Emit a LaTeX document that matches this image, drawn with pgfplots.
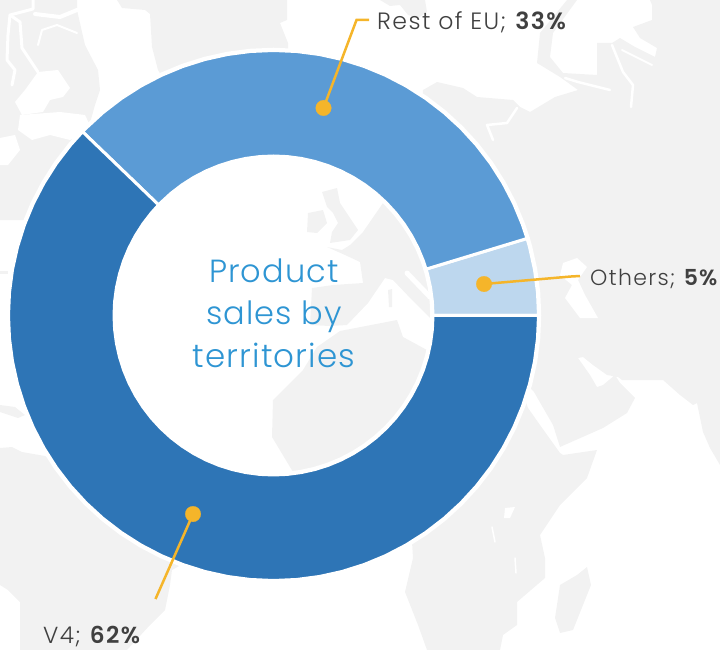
\documentclass[border=0pt]{standalone}
\usepackage{pgfplots}
\usepackage{pgfplotstable}
\usepackage{fontspec}
\pgfplotsset{compat=1.18}
\setmainfont{Poppins}[UprightFont=* Light,BoldFont=* SemiBold]
\newfontfamily\lab{Poppins}[UprightFont=* Light,BoldFont=* SemiBold,LetterSpace=6]
\newfontfamily\ttl{Poppins}[UprightFont=* Light,LetterSpace=3.5]
\definecolor{land}{HTML}{F2F2F2}
\definecolor{vfour}{HTML}{2E75B6}
\definecolor{resteu}{HTML}{5B9BD5}
\definecolor{others}{HTML}{BDD7EE}
\definecolor{gold}{HTML}{F5B52A}
\definecolor{dark}{HTML}{404040}
\definecolor{title}{HTML}{2E95D3}
% Shares: Others 4.7 (labelled 5), Rest of EU 33, V4 62.2 (labelled 62) -> angles 0-16.9, 16.9-136.1, 136.1-360
\pgfplotstableread[row sep=\\]{a r\\0 265\\5 265\\10 265\\15 265\\16.9 265\\16.9 159.5\\15 159.5\\10 159.5\\5 159.5\\0 159.5\\}\tabothers
\pgfplotstableread[row sep=\\]{a r\\16.9 265\\20 265\\25 265\\30 265\\35 265\\40 265\\45 265\\50 265\\55 265\\60 265\\65 265\\70 265\\75 265\\80 265\\85 265\\90 265\\95 265\\100 265\\105 265\\110 265\\115 265\\120 265\\125 265\\130 265\\135 265\\136.1 265\\136.1 159.5\\135 159.5\\130 159.5\\125 159.5\\120 159.5\\115 159.5\\110 159.5\\105 159.5\\100 159.5\\95 159.5\\90 159.5\\85 159.5\\80 159.5\\75 159.5\\70 159.5\\65 159.5\\60 159.5\\55 159.5\\50 159.5\\45 159.5\\40 159.5\\35 159.5\\30 159.5\\25 159.5\\20 159.5\\16.9 159.5\\}\tabeu
\pgfplotstableread[row sep=\\]{a r\\136.1 265\\140 265\\145 265\\150 265\\155 265\\160 265\\165 265\\170 265\\175 265\\180 265\\185 265\\190 265\\195 265\\200 265\\205 265\\210 265\\215 265\\220 265\\225 265\\230 265\\235 265\\240 265\\245 265\\250 265\\255 265\\260 265\\265 265\\270 265\\275 265\\280 265\\285 265\\290 265\\295 265\\300 265\\305 265\\310 265\\315 265\\320 265\\325 265\\330 265\\335 265\\340 265\\345 265\\350 265\\355 265\\360 265\\360 159.5\\355 159.5\\350 159.5\\345 159.5\\340 159.5\\335 159.5\\330 159.5\\325 159.5\\320 159.5\\315 159.5\\310 159.5\\305 159.5\\300 159.5\\295 159.5\\290 159.5\\285 159.5\\280 159.5\\275 159.5\\270 159.5\\265 159.5\\260 159.5\\255 159.5\\250 159.5\\245 159.5\\240 159.5\\235 159.5\\230 159.5\\225 159.5\\220 159.5\\215 159.5\\210 159.5\\205 159.5\\200 159.5\\195 159.5\\190 159.5\\185 159.5\\180 159.5\\175 159.5\\170 159.5\\165 159.5\\160 159.5\\155 159.5\\150 159.5\\145 159.5\\140 159.5\\136.1 159.5\\}\tabvfour
\pgfplotsset{
  base/.style={hide axis,scale only axis,width=720pt,height=650pt,at={(0,0)},anchor=south west},
  pix/.style={base,xmin=0,xmax=720,ymin=0,ymax=650,y dir=reverse},
  gr/.style={fill=land,draw=none,forget plot},
  wh/.style={fill=white,draw=none,forget plot},
  wl/.style={white,line width=#1,no markers,line join=round,line cap=round,forget plot},
}
\begin{document}
\begin{tikzpicture}
\path[use as bounding box] (0,0) rectangle (720pt,650pt);
% ---- background map ----
\begin{axis}[pix]
% Canada
\addplot[gr] coordinates {(0,0)(77,0)(77,10)(85,45)(98,70)(100,90)(95,105)(88,130)(55,170)(30,220)(0,220)} -- cycle;
\addplot[wh] coordinates {(38,72)(58,70)(70,88)(63,97)(50,100)(43,112)(22,115)(15,102)(25,90)} -- cycle;
\addplot[wh] coordinates {(20,115)(60,112)(85,115)(92,130)(70,140)(50,135)(32,140)(18,130)} -- cycle;
\addplot[wh] coordinates {(0,138)(15,135)(20,150)(8,165)(0,165)} -- cycle;
\addplot[wl=3pt] coordinates {(33,0)(33,9)(10,15)(8,35)(7,60)(15,70)(12,85)};
\addplot[wl=2pt] coordinates {(38,45)(42,30)(57,25)(77,33)};
\addplot[wl=3pt] coordinates {(10,15)(20,22)(22,48)(30,60)(38,72)};
\addplot[wl=4pt] coordinates {(77,10)(60,17)(35,14)};
% Greenland
\addplot[gr] coordinates {(117,0)(122,8)(145,10)(150,14)(152,47)(158,70)(170,90)(288,70)(288,43)(280,23)(287,20)(287,0)} -- cycle;
% Iceland
\addplot[gr] coordinates {(380,0)(425,0)(427,12)(418,18)(408,15)(400,5)(390,6)} -- cycle;
% Caribbean
\addplot[gr] coordinates {(0,405)(15,407)(25,415)(18,418)(0,412)} -- cycle;
\addplot[gr] coordinates {(0,271)(8,271)(8,274)(0,274)} -- cycle;
% South America
\addplot[gr] coordinates {(0,448)(12,447)(22,452)(45,456)(90,480)(190,560)(172,570)(170,585)(165,610)(150,625)(127,650)(20,650)(20,602)(8,590)(0,585)} -- cycle;
% Eurasia and east Africa
\addplot[gr] coordinates {(420,130)(423,90)(437,82)(463,88)(477,97)(513,100)(520,107)(530,112)(555,97)(578,90)(560,77)(537,63)(540,33)(567,0)(577,0)(553,33)(550,57)(563,73)(597,75)(597,43)(612,43)(620,38)(635,47)(655,57)(657,48)(640,38)(633,27)(652,20)(652,5)(650,0)(720,0)(720,465)(710,448)(703,432)(697,403)(693,405)(680,395)(663,380)(622,380)(618,377)(607,375)(593,365)(583,357)(578,358)(590,375)(597,387)(603,385)(615,375)(620,383)(635,398)(627,413)(603,428)(560,447)(553,425)(534,392)(527,385)(525,400)(528,408)(540,425)(560,453)(563,455)(597,450)(587,478)(560,505)(540,535)(545,558)(545,578)(517,602)(517,625)(503,635)(500,650)(427,650)(418,625)(405,592)(413,558)(412,542)(400,500)(430,480)(500,400)(505,250)(470,200)} -- cycle;
\addplot[wl=2.5pt] coordinates {(517,108)(507,123)(487,125)(493,140)};
\addplot[wl=2.5pt] coordinates {(565,78)(578,82)(610,90)};
\addplot[wl=2.5pt] coordinates {(612,45)(623,72)(633,85)(631,107)};
\addplot[wl=2pt] coordinates {(622,50)(632,55)(652,65)};
% Madagascar
\addplot[gr] coordinates {(587,567)(591,585)(573,630)(560,633)(555,618)(560,585)(577,575)} -- cycle;
% lakes
\addplot[wh] coordinates {(505,508)(515,507)(510,518)(504,518)} -- cycle;
\addplot[wl=1.5pt] coordinates {(492,527)(495,542)};
\addplot[wl=1.5pt] coordinates {(515,558)(516,573)};
% Caspian
\addplot[wh] coordinates {(563,263)(577,258)(587,267)(578,280)(585,295)(598,318)(580,318)(565,298)(572,285)(560,275)} -- cycle;
% UK, Ireland
\addplot[gr] coordinates {(322,192)(337,188)(340,203)(358,230)(350,240)(330,243)(332,232)(338,223)(333,213)(327,207)} -- cycle;
\addplot[gr] coordinates {(308,213)(323,210)(327,223)(317,233)(307,232)} -- cycle;
% Europe
\addplot[gr] coordinates {(395,190)(383,203)(363,232)(350,245)(342,250)(327,247)(345,255)(360,262)(363,283)(333,285)(312,288)(310,325)(330,326)(347,325)(368,303)(385,278)(393,280)(412,300)(430,318)(440,320)(445,280)} -- cycle;
\addplot[wl=5pt] coordinates {(407,273)(430,297)};
\addplot[gr] coordinates {(388,290)(392,289)(392,307)(389,307)} -- cycle;
% North-west Africa
\addplot[gr] coordinates {(340,331)(397,320)(403,337)(427,350)(445,355)(450,420)(300,490)(293,472)(272,437)(273,400)(303,370)(317,347)} -- cycle;
\end{axis}
% ---- doughnut ----
\begin{axis}[base,xmin=-273.5,xmax=446.5,ymin=-334.5,ymax=315.5]
\addplot[data cs=polar,fill=white,draw=white,line width=5.5pt,line join=round,forget plot] table[x=a,y=r] {\tabothers} -- cycle;
\addplot[data cs=polar,fill=white,draw=white,line width=5.5pt,line join=round,forget plot] table[x=a,y=r] {\tabeu} -- cycle;
\addplot[data cs=polar,fill=white,draw=white,line width=5.5pt,line join=round,forget plot] table[x=a,y=r] {\tabvfour} -- cycle;
\addplot[data cs=polar,fill=others,draw=white,line width=3pt,line join=round,forget plot] table[x=a,y=r] {\tabothers} -- cycle;
\addplot[data cs=polar,fill=resteu,draw=white,line width=3pt,line join=round,forget plot] table[x=a,y=r] {\tabeu} -- cycle;
\addplot[data cs=polar,fill=vfour,draw=white,line width=3pt,line join=round,forget plot] table[x=a,y=r] {\tabvfour} -- cycle;
\end{axis}
% ---- leaders and text ----
\begin{axis}[pix,clip=false]
\addplot[gold,line width=2.5pt,no markers,line join=miter] coordinates {(323.5,108)(356.5,20)(369,20)};
\addplot[gold,line width=2.5pt,no markers] coordinates {(484,284)(571,276.5)(580,276)};
\addplot[gold,line width=2.5pt,no markers] coordinates {(193,514)(155.5,599)};
\addplot[only marks,mark=*,mark size=7.8pt,mark options={fill=gold,draw=gold,line width=0.2pt}] coordinates {(323.5,108)(484,284)(193,514)};
\node[anchor=base west,text=dark,font=\lab\fontsize{23.6}{28}\selectfont,inner sep=0pt] at (axis cs:377,30) {Rest of EU; \textbf{33\%}};
\node[anchor=base west,text=dark,font=\lab\fontsize{22}{26}\selectfont,inner sep=0pt] at (axis cs:590,285) {Others; \textbf{5\%}};
\node[anchor=base west,text=dark,font=\lab\fontsize{23.2}{27}\selectfont,inner sep=0pt] at (axis cs:43,643) {V4; \textbf{62\%}};
\node[anchor=base,text=title,font=\ttl\fontsize{32}{38}\selectfont,inner sep=0pt] at (axis cs:274,282) {Product};
\node[anchor=base,text=title,font=\ttl\fontsize{32}{38}\selectfont,inner sep=0pt] at (axis cs:274,324) {sales by};
\node[anchor=base,text=title,font=\ttl\fontsize{32.5}{38}\selectfont,inner sep=0pt] at (axis cs:274,367) {territories};
\end{axis}
\end{tikzpicture}
\end{document}
